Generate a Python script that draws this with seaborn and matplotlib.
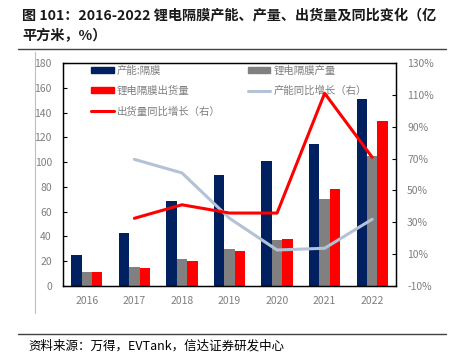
import numpy as np
import pandas as pd
import seaborn as sns
import matplotlib.pyplot as plt
from matplotlib.lines import Line2D
from matplotlib.patches import Patch
from matplotlib.ticker import FuncFormatter, FixedLocator

years = ["2016", "2017", "2018", "2019", "2020", "2021", "2022"]
capacity = [25, 42.5, 68.5, 90, 101, 115, 151]
production = [11.6, 15.1, 21.8, 30, 37, 70, 105]
shipment = [11, 14.5, 20.5, 28, 38, 78, 133.5]
growth_years = years[1:]
capacity_yoy = [69.5, 61, 32.5, 12.6, 13.7, 31.9]
shipment_yoy = [32.5, 41, 35.8, 35.8, 111, 70.8]

series_names = ["产能:隔膜", "锂电隔膜产量", "锂电隔膜出货量"]
line_names = ["产能同比增长（右）", "出货量同比增长（右）"]

NAVY = "#002060"
GRAY = "#808080"
RED = "#FF0000"
LIGHT = "#B4C2D6"
TXT = "#7F7F7F"


def make_df():
    rows = []
    for name, vals in zip(series_names, [capacity, production, shipment]):
        for y, v in zip(years, vals):
            rows.append({"year": y, "value": v, "series": name})
    return pd.DataFrame(rows)


def main():
    sns.set_style("white")
    plt.rcParams['font.family'] = ['Noto Sans CJK SC', 'DejaVu Sans']

    fig = plt.figure(figsize=(4.53, 3.6), dpi=100)
    ax = fig.add_axes([63 / 453, 1 - 286 / 360, 333 / 453, 223 / 360])

    df = make_df()
    sns.barplot(data=df, x="year", y="value", hue="series", order=years,
                hue_order=series_names, palette=[NAVY, GRAY, RED],
                width=0.66, saturation=1, linewidth=0, edgecolor="none",
                ax=ax, legend=False)
    ax.set_xlabel("")
    ax.set_ylabel("")
    ax.set_ylim(0, 180)
    ax.set_yticks(np.arange(0, 181, 20))
    ax.set_xlim(-0.5, len(years) - 0.5)

    ax2 = ax.twinx()
    xg = [years.index(y) for y in growth_years]
    ax2.plot(xg, capacity_yoy, color=LIGHT, lw=2.2)
    ax2.plot(xg, shipment_yoy, color=RED, lw=2.2)
    ax2.set_ylim(-10, 130)
    ax2.set_yticks(np.arange(-10, 131, 20))
    ax2.yaxis.set_major_formatter(FuncFormatter(lambda v, p: "{:.0f}%".format(v)))

    for a in (ax, ax2):
        for s in a.spines.values():
            s.set_visible(True)
            s.set_color("black")
            s.set_linewidth(0.9)
    ax.tick_params(axis="y", direction="in", length=3, colors="black",
                   labelcolor=TXT, labelsize=7.5, pad=8)
    ax2.tick_params(axis="y", direction="in", length=3, colors="black",
                    labelcolor=TXT, labelsize=7.5, pad=8)
    ax.tick_params(axis="x", length=0, labelcolor=TXT, labelsize=7.5, pad=7)
    ax.xaxis.set_minor_locator(FixedLocator(np.arange(0.5, len(years) - 1, 1)))
    ax.tick_params(axis="x", which="minor", direction="in", length=3, color="black")

    handles = [Patch(color=NAVY), Patch(color=RED), Line2D([], [], color=RED, lw=2.2),
               Patch(color=GRAY), Line2D([], [], color=LIGHT, lw=2.2)]
    labels = [series_names[0], series_names[2], line_names[1], series_names[1], line_names[0]]
    leg = ax.legend(handles, labels, ncol=2, loc="upper left", bbox_to_anchor=(0.055, 1.03),
                    frameon=False, fontsize=7.5, handlelength=2.2, handleheight=0.5,
                    columnspacing=2.6, labelspacing=0.95, handletextpad=0.3)
    for t in leg.get_texts():
        t.set_color(TXT)

    fig.text(22 / 453, 1 - 16 / 360,
             "图 101：2016-2022 锂电隔膜产能、产量、出货量及同比变化（亿",
             fontsize=10.2, fontweight="bold", color="#1A1A1A", va="center")
    fig.text(22 / 453, 1 - 36 / 360, "平方米，%）",
             fontsize=10.2, fontweight="bold", color="#1A1A1A", va="center")
    fig.add_artist(Line2D([18 / 453, 446 / 453], [1 - 49 / 360, 1 - 49 / 360],
                          color="#404040", lw=1.0))
    fig.add_artist(Line2D([35 / 453, 35 / 453], [1 - 52 / 360, 1 - 313 / 360],
                          color="#BFBFBF", lw=0.8))
    fig.add_artist(Line2D([18 / 453, 446 / 453], [1 - 334 / 360, 1 - 334 / 360],
                          color="#404040", lw=1.0))
    fig.text(28 / 453, 1 - 346 / 360, "资料来源：万得，EVTank，信达证券研发中心",
             fontsize=9, fontstyle="italic", color="black", va="center")

    fig.savefig("out.png", dpi=100)
    plt.close()


if __name__ == '__main__':
    main()
